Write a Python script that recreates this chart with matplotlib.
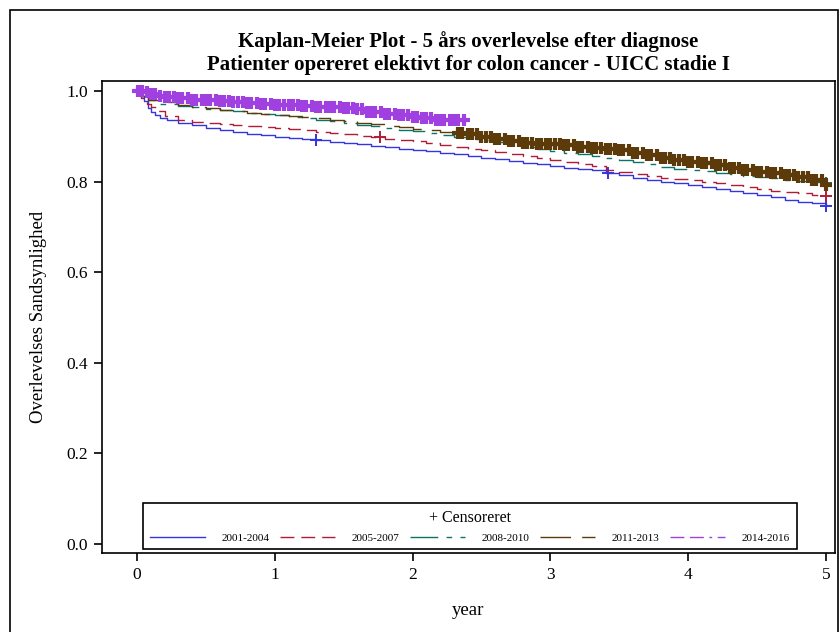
import numpy as np
import matplotlib
matplotlib.use('Agg')
import matplotlib.pyplot as plt
from matplotlib.lines import Line2D
from matplotlib.patches import Rectangle

plt.rcParams['font.family'] = ['Liberation Serif', 'DejaVu Serif']

# Kaplan-Meier step points (time in years, survival probability)
t_0104 = [0, 0.02, 0.05, 0.08, 0.1, 0.13, 0.17, 0.22, 0.3, 0.4, 0.5, 0.6, 0.7, 0.8, 0.9, 1.0,
          1.1, 1.2, 1.3, 1.4, 1.5, 1.6, 1.7, 1.8, 1.9, 2.0, 2.1, 2.2, 2.3, 2.4, 2.5, 2.6, 2.7,
          2.8, 2.9, 3.0, 3.1, 3.2, 3.3, 3.4, 3.5, 3.6, 3.7, 3.8, 3.9, 4.0, 4.1, 4.2, 4.3, 4.4,
          4.5, 4.6, 4.7, 4.8, 4.9, 5.0]
s_0104 = [1.0, 0.99, 0.977, 0.963, 0.953, 0.946, 0.94, 0.935, 0.929, 0.924, 0.919, 0.913,
          0.909, 0.905, 0.902, 0.898, 0.896, 0.893, 0.891, 0.888, 0.885, 0.882, 0.879, 0.876,
          0.873, 0.870, 0.867, 0.864, 0.861, 0.856, 0.853, 0.849, 0.846, 0.842, 0.838, 0.834,
          0.830, 0.828, 0.826, 0.818, 0.814, 0.808, 0.804, 0.800, 0.797, 0.793, 0.788, 0.783,
          0.779, 0.775, 0.770, 0.765, 0.760, 0.756, 0.752, 0.747]
c_0104 = [1.3, 3.42, 5.0]

t_0507 = [0, 0.03, 0.07, 0.1, 0.14, 0.2, 0.3, 0.4, 0.5, 0.6, 0.7, 0.8, 0.9, 1.0, 1.1, 1.2,
          1.3, 1.4, 1.5, 1.6, 1.7, 1.8, 1.9, 2.0, 2.1, 2.2, 2.3, 2.4, 2.5, 2.6, 2.7, 2.8, 2.9,
          3.0, 3.1, 3.2, 3.3, 3.4, 3.5, 3.6, 3.7, 3.8, 3.9, 4.0, 4.1, 4.2, 4.3, 4.4, 4.5, 4.6,
          4.7, 4.8, 4.9, 5.0]
s_0507 = [1.0, 0.985, 0.972, 0.965, 0.955, 0.945, 0.936, 0.932, 0.929, 0.927, 0.925, 0.922,
          0.92, 0.918, 0.915, 0.913, 0.910, 0.907, 0.904, 0.901, 0.898, 0.895, 0.892, 0.889,
          0.885, 0.881, 0.877, 0.873, 0.869, 0.865, 0.861, 0.856, 0.852, 0.848, 0.843, 0.839,
          0.835, 0.825, 0.822, 0.817, 0.812, 0.808, 0.806, 0.804, 0.800, 0.796, 0.792, 0.788,
          0.783, 0.780, 0.777, 0.774, 0.771, 0.768]
c_0507 = [1.76, 5.0]

t_0810 = [0, 0.03, 0.08, 0.15, 0.3, 0.4, 0.5, 0.6, 0.7, 0.8, 0.9, 1.0, 1.1, 1.2, 1.3, 1.4,
          1.5, 1.6, 1.7, 1.8, 1.9, 2.0, 2.1, 2.2, 2.3, 2.4, 2.5, 2.6, 2.7, 2.8, 2.9, 3.0, 3.1,
          3.2, 3.3, 3.4, 3.5, 3.6, 3.7, 3.8, 3.9, 4.0, 4.1, 4.2, 4.3, 4.4, 4.5, 4.6, 4.7, 4.8,
          4.9, 5.0]
s_0810 = [1.0, 0.99, 0.979, 0.972, 0.967, 0.964, 0.961, 0.958, 0.955, 0.952, 0.949, 0.946,
          0.943, 0.940, 0.936, 0.933, 0.929, 0.926, 0.922, 0.918, 0.914, 0.911, 0.907, 0.902,
          0.898, 0.895, 0.891, 0.887, 0.882, 0.877, 0.872, 0.868, 0.864, 0.860, 0.856, 0.852,
          0.848, 0.843, 0.838, 0.832, 0.828, 0.826, 0.823, 0.820, 0.816, 0.812, 0.810, 0.807,
          0.804, 0.801, 0.799, 0.796]
c_0810 = [5.0]

t_1113 = [0, 0.03, 0.08, 0.15, 0.3, 0.4, 0.5, 0.6, 0.7, 0.8, 0.9, 1.0, 1.1, 1.2, 1.3, 1.4,
          1.5, 1.6, 1.7, 1.8, 1.9, 2.0, 2.1, 2.2, 2.3, 2.4, 2.5, 2.6, 2.7, 2.8, 2.9, 3.0, 3.1,
          3.2, 3.3, 3.4, 3.5, 3.6, 3.7, 3.8, 3.9, 4.0, 4.1, 4.2, 4.3, 4.4, 4.5, 4.6, 4.7, 4.8,
          4.9, 5.0]
s_1113 = [1.0, 0.99, 0.98, 0.975, 0.968, 0.965, 0.962, 0.958, 0.955, 0.952, 0.950, 0.947,
          0.945, 0.942, 0.940, 0.937, 0.934, 0.930, 0.927, 0.923, 0.920, 0.917, 0.913, 0.910,
          0.907, 0.904, 0.898, 0.893, 0.889, 0.886, 0.884, 0.882, 0.880, 0.877, 0.874, 0.872,
          0.869, 0.864, 0.859, 0.852, 0.847, 0.843, 0.840, 0.836, 0.831, 0.826, 0.821, 0.818,
          0.815, 0.811, 0.804, 0.792]
c_1113 = [2.33, 2.36, 2.40, 2.43, 2.47, 2.50, 2.53, 2.57, 2.60, 2.63, 2.67, 2.70, 2.73, 2.77,
          2.80, 2.83, 2.87, 2.90, 2.93, 2.97, 3.00, 3.03, 3.07, 3.10, 3.13, 3.17, 3.20, 3.23,
          3.27, 3.30, 3.33, 3.37, 3.40, 3.43, 3.47, 3.50, 3.53, 3.57, 3.60, 3.63, 3.67, 3.70,
          3.73, 3.77, 3.80, 3.83, 3.87, 3.90, 3.93, 3.97, 4.00, 4.03, 4.07, 4.10, 4.13, 4.17,
          4.20, 4.23, 4.27, 4.30, 4.33, 4.37, 4.40, 4.43, 4.47, 4.50, 4.53, 4.57, 4.60, 4.63,
          4.67, 4.70, 4.73, 4.77, 4.80, 4.83, 4.87, 4.90, 4.93, 4.97, 5.00]

t_1416 = [0, 0.05, 0.1, 0.15, 0.2, 0.3, 0.4, 0.5, 0.6, 0.7, 0.8, 0.9, 1.0, 1.1, 1.2, 1.3,
          1.4, 1.5, 1.6, 1.65, 1.8, 1.9, 2.0, 2.05, 2.15, 2.38]
s_1416 = [1.0, 0.997, 0.994, 0.99, 0.987, 0.984, 0.981, 0.979, 0.977, 0.976, 0.974, 0.972,
          0.970, 0.968, 0.967, 0.965, 0.964, 0.962, 0.961, 0.953, 0.949, 0.946, 0.943, 0.94,
          0.936, 0.936]
c_1416 = [0.01, 0.04, 0.07, 0.10, 0.13, 0.17, 0.20, 0.23, 0.27, 0.30, 0.33, 0.37, 0.40, 0.43,
          0.47, 0.50, 0.53, 0.57, 0.60, 0.63, 0.67, 0.70, 0.73, 0.77, 0.80, 0.83, 0.87, 0.90,
          0.93, 0.97, 1.00, 1.03, 1.07, 1.10, 1.13, 1.17, 1.20, 1.23, 1.27, 1.30, 1.33, 1.37,
          1.40, 1.43, 1.47, 1.50, 1.53, 1.57, 1.60, 1.63, 1.67, 1.70, 1.73, 1.77, 1.80, 1.83,
          1.87, 1.90, 1.93, 1.97, 2.00, 2.03, 2.07, 2.10, 2.13, 2.17, 2.20, 2.23, 2.27, 2.30,
          2.33, 2.37]

labels = ['2001-2004', '2005-2007', '2008-2010', '2011-2013', '2014-2016']
colors = ['#3434e0', '#b01c38', '#0e7366', '#5c3a0a', '#a040e0']
dashes = [(None, None), (10, 5), (20, 6, 4, 6), (22, 8), (10, 4, 10, 4, 2, 4)]
series = [(t_0104, s_0104, c_0104), (t_0507, s_0507, c_0507), (t_0810, s_0810, c_0810),
          (t_1113, s_1113, c_1113), (t_1416, s_1416, c_1416)]

fig = plt.figure(figsize=(8.4, 6.32), dpi=100)
ax = fig.add_axes([0.1214, 0.125, 0.8726, 0.7468])

handles = []
for (t, s, c), lab, col, d in zip(series, labels, colors, dashes):
    t = np.array(t)
    s = np.array(s)
    line, = ax.step(t, s, where='post', color=col, lw=1.0)
    if d[0] is not None:
        line.set_dashes(d)
    # censored observations drawn on the curve
    c = np.array(c)
    cy = s[np.searchsorted(t, c, side='right') - 1]
    dense = len(c) > 10
    ax.plot(c, cy, '+', color=col, ms=8, mew=3.0 if dense else 1.4)
    h = Line2D([], [], color=col, lw=1.0)
    if d[0] is not None:
        h.set_dashes(d)
    handles.append(h)

ax.set_xlim(-0.254, 5.065)
ax.set_ylim(-0.02, 1.022)
ax.set_xticks([0, 1, 2, 3, 4, 5])
ax.set_yticks([0.0, 0.2, 0.4, 0.6, 0.8, 1.0])
ax.set_yticklabels(['0.0', '0.2', '0.4', '0.6', '0.8', '1.0'])
ax.tick_params(labelsize=12.5, length=6, width=1.2, pad=4)
for sp in ax.spines.values():
    sp.set_linewidth(1.2)

ax.set_xlabel('year', fontsize=13.5, labelpad=14)
ax.set_ylabel('Overlevelses Sandsynlighed', fontsize=13.5, labelpad=14)
ax.set_title('Kaplan-Meier Plot - 5 års overlevelse efter diagnose\n'
             'Patienter opereret elektivt for colon cancer - UICC stadie I',
             fontsize=15, fontweight='bold', pad=8, linespacing=1.22)

leg = ax.legend(handles, labels, title='+ Censoreret', ncol=5, fontsize=8,
                title_fontsize=11.5, loc='lower left',
                bbox_to_anchor=(0.056, 0.008, 0.892, 0.098), mode='expand',
                handlelength=5.0, handletextpad=1.5, columnspacing=1.0,
                borderaxespad=0, labelspacing=0.6, borderpad=0.6,
                fancybox=False, edgecolor='black', framealpha=1)
leg.get_frame().set_linewidth(1.2)

fig.patches.append(Rectangle((10 / 840, -0.05), 828 / 840, 1.05 - 10 / 632,
                             transform=fig.transFigure, fill=False,
                             edgecolor='black', lw=1.2))

fig.savefig('out.png', dpi=100)
